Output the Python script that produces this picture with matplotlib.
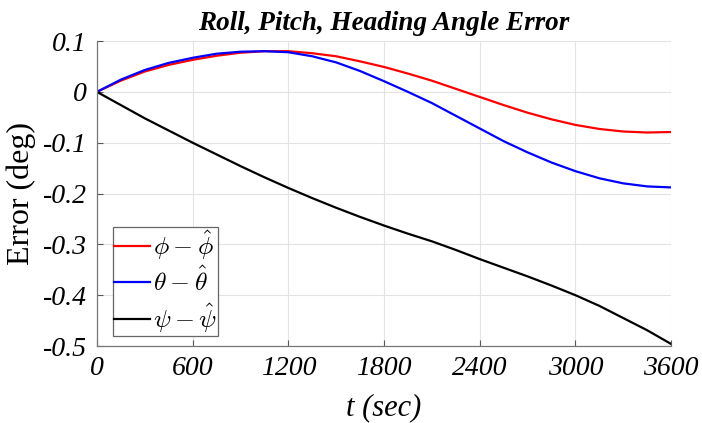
import matplotlib
matplotlib.use("Agg")
import matplotlib.pyplot as plt

plt.rcParams["font.family"] = ["Liberation Serif", "DejaVu Serif"]
plt.rcParams["mathtext.fontset"] = "cm"

# time samples (s) and attitude errors (deg)
t = [0, 150, 300, 450, 600, 750, 900, 1050, 1200, 1350, 1500, 1650, 1800, 1950, 2100,
     2250, 2400, 2550, 2700, 2850, 3000, 3150, 3300, 3450, 3600]
roll_err = [0.0, 0.022, 0.040, 0.053, 0.063, 0.071, 0.077, 0.080, 0.080, 0.076, 0.070,
            0.060, 0.049, 0.036, 0.022, 0.006, -0.010, -0.026, -0.041, -0.054, -0.065,
            -0.073, -0.078, -0.080, -0.079]
pitch_err = [0.0, 0.024, 0.043, 0.057, 0.067, 0.075, 0.079, 0.080, 0.078, 0.070, 0.058,
             0.041, 0.021, 0.000, -0.022, -0.047, -0.072, -0.097, -0.119, -0.139, -0.156,
             -0.170, -0.180, -0.186, -0.188]
heading_err = [0.0, -0.026, -0.052, -0.076, -0.100, -0.123, -0.146, -0.168, -0.189, -0.209,
               -0.228, -0.246, -0.263, -0.279, -0.294, -0.311, -0.329, -0.346, -0.363,
               -0.381, -0.400, -0.421, -0.445, -0.469, -0.496]

x_ticks = [0, 600, 1200, 1800, 2400, 3000, 3600]
y_ticks = [-0.5, -0.4, -0.3, -0.2, -0.1, 0, 0.1]
y_ticklabels = ["-0.5", "-0.4", "-0.3", "-0.2", "-0.1", "0", "0.1"]

fig = plt.figure(figsize=(7.02, 4.23), dpi=100)
ax = fig.add_axes([0.138, 0.182, 0.818, 0.721])

ax.plot(t, roll_err, color="#ff0000", linewidth=1.6, label=r"$\phi-\hat{\phi}$")
ax.plot(t, pitch_err, color="#0000ff", linewidth=1.6, label=r"$\theta-\hat{\theta}$")
ax.plot(t, heading_err, color="black", linewidth=1.6, label=r"$\psi-\hat{\psi}$")

ax.set_xlim(0, 3600)
ax.set_ylim(-0.5, 0.1)
ax.set_xticks(x_ticks)
ax.set_yticks(y_ticks)
ax.set_xticklabels([str(v) for v in x_ticks], fontstyle="italic", fontsize=20)
ax.set_yticklabels(y_ticklabels, fontstyle="italic", fontsize=20)
ax.tick_params(direction="in", length=4, width=0.8, color="#555555", pad=7)

ax.grid(True, color="#e3e3e3", linewidth=0.8)
ax.set_axisbelow(True)
for side in ["top", "right"]:
    ax.spines[side].set_visible(False)
for side in ["left", "bottom"]:
    ax.spines[side].set_color("#777777")
    ax.spines[side].set_linewidth(0.9)

ax.set_title("Roll, Pitch, Heading Angle Error", fontsize=19.5, fontweight="bold",
             fontstyle="italic", pad=8)
ax.set_xlabel("t (sec)", fontsize=22, fontstyle="italic", labelpad=9)
ax.set_ylabel("Error (deg)", fontsize=23, labelpad=5)

leg = ax.legend(loc="lower left", bbox_to_anchor=(0.028, 0.033), fontsize=18.5,
                handlelength=1.4, handletextpad=0.1, borderpad=0.05, labelspacing=0.2,
                borderaxespad=0, fancybox=False, framealpha=1)
leg.get_frame().set_edgecolor("#666666")
leg.get_frame().set_linewidth(0.9)

fig.savefig("out.png", dpi=100)
